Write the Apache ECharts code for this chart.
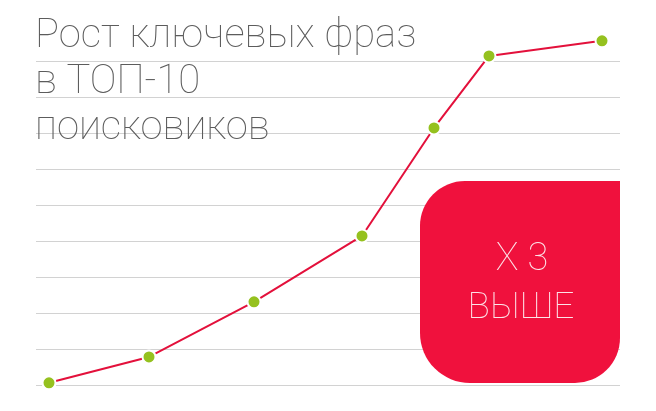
<!DOCTYPE html>
<html>
<head>
<meta charset="utf-8">
<script src="https://cdn.jsdelivr.net/npm/echarts@6/dist/echarts.min.js"></script>
<style>
html,body{margin:0;padding:0;background:#fff;}
#chart{width:656px;height:411px;}
</style>
</head>
<body>
<div id="chart"></div>
<script>
var titleLines = ['Рост ключевых фраз', 'в ТОП-10', 'поисковиков'];
var badgeLines = ['X 3', 'ВЫШЕ'];
var xValues = [13, 113, 218, 326, 398, 453, 566];
var yValues = [0.06, 0.78, 2.31, 4.14, 7.14, 9.14, 9.56];

var chart = echarts.init(document.getElementById('chart'), null, {renderer: 'canvas'});
var points = xValues.map(function (x, i) { return [x, yValues[i]]; });

chart.setOption({
  animation: false,
  backgroundColor: '#ffffff',
  title: {
    text: titleLines.join('\n'),
    left: 35,
    top: 14,
    padding: 0,
    textStyle: {
      fontFamily: 'Roboto',
      fontWeight: 100,
      fontSize: 40,
      lineHeight: 46,
      color: '#5c5c5c'
    }
  },
  grid: {left: 36, right: 36, top: 61, bottom: 26, containLabel: false},
  xAxis: {
    type: 'value', min: 0, max: 584,
    show: false
  },
  yAxis: {
    type: 'value', min: 0, max: 9, interval: 1,
    axisLine: {show: false}, axisTick: {show: false}, axisLabel: {show: false},
    splitLine: {show: true, lineStyle: {color: '#d2d2d2', width: 1}}
  },
  graphic: [
    {
      type: 'rect',
      shape: {x: 420, y: 181, width: 200, height: 202, r: [45, 0, 45, 50]},
      style: {fill: '#f0113d'},
      z: 10
    },
    {
      type: 'text',
      x: 522, y: 260,
      style: {text: badgeLines[0], fill: '#fde3e8', font: '100 38px Roboto', align: 'center', verticalAlign: 'middle'},
      z: 11
    },
    {
      type: 'text',
      x: 521, y: 309,
      style: {text: badgeLines[1], fill: '#fde3e8', font: '100 37px Roboto', align: 'center', verticalAlign: 'middle'},
      z: 11
    }
  ],
  series: [{
    type: 'line',
    data: points,
    clip: false,
    symbol: 'circle',
    symbolSize: 13,
    lineStyle: {color: '#e3103b', width: 2},
    itemStyle: {color: '#95c11f', borderColor: '#ffffff', borderWidth: 2},
    z: 3
  }]
});
</script>
</body>
</html>
